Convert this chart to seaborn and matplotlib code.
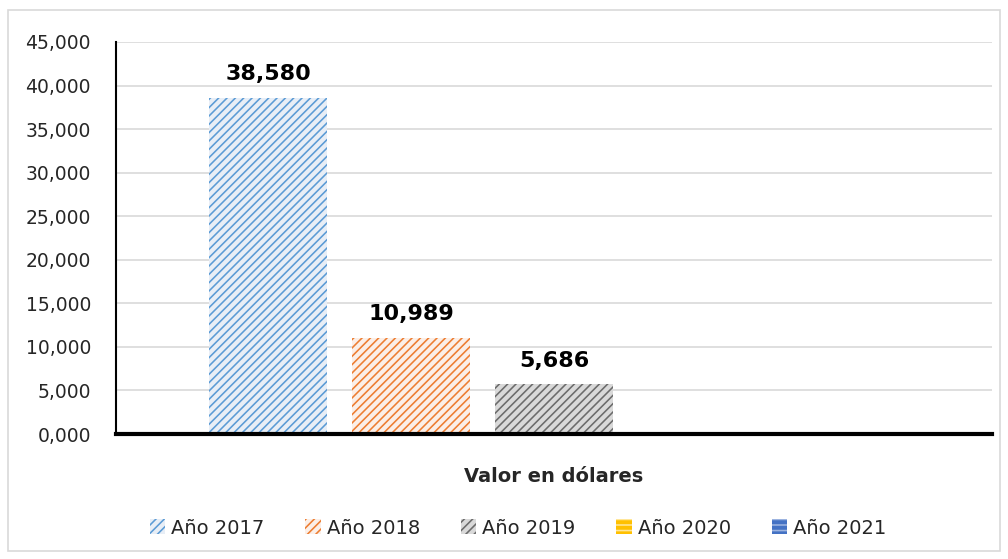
import pandas as pd
import numpy as np
import seaborn as sns
import matplotlib.pyplot as plt
from matplotlib.ticker import FuncFormatter
from matplotlib.patches import Rectangle

# Data
series = ['Año 2017', 'Año 2018', 'Año 2019', 'Año 2020', 'Año 2021']
values = [38.580, 10.989, 5.686, 0.0, 0.0]
category = 'Valor en dólares'

face_colors = ['#e8eef6', '#fbefe8', '#d9d9d9', '#FFC000', '#4472C4']
hatch_colors = ['#5B9BD5', '#ED7D31', '#6b6b6b', '#FFE699', '#9DB4E0']
hatches = ['////', '////', '////', '---', '---']

df = pd.DataFrame({'cat': [category] * len(series), 'serie': series, 'valor': values})

sns.set_style('white')
plt.rcParams['font.family'] = ['DejaVu Sans']
plt.rcParams['hatch.linewidth'] = 1.15

fig = plt.figure(figsize=(10.08, 5.59), dpi=100)
ax = fig.add_axes([116 / 1008, 1 - 434 / 559, (992 - 116) / 1008, (434 - 42) / 559])

sns.barplot(data=df, x='cat', y='valor', hue='serie', palette=face_colors,
            width=0.816, gap=0.175, ax=ax, legend=False)

for cont, fc, hc, h in zip(ax.containers, face_colors, hatch_colors, hatches):
    for p in cont.patches:
        p.set_facecolor(fc)
        p.set_edgecolor(hc)
        p.set_hatch(h)
        p.set_linewidth(0)

# Bar labels
for cont, v in zip(ax.containers, values):
    if v > 0:
        ax.bar_label(cont, labels=[f"{v:.3f}".replace('.', ',')], padding=10,
                     fontsize=16, fontweight='bold', color='black')

ax.set_xlim(-0.5, 0.5)
ax.set_ylim(0, 45)
ax.set_yticks(np.arange(0, 46, 5))
ax.yaxis.set_major_formatter(FuncFormatter(lambda v, pos: f"{v:.3f}".replace('.', ',')))
ax.tick_params(axis='y', length=0, labelsize=13.5, pad=18, colors='#262626')
ax.tick_params(axis='x', length=0, labelbottom=False)
ax.grid(axis='y', color='#d9d9d9', linewidth=1.2)
ax.set_axisbelow(True)

ax.set_xlabel(category, fontsize=14, fontweight='bold', labelpad=24)
ax.set_ylabel('')

for s in ['top', 'right']:
    ax.spines[s].set_visible(False)
ax.spines['left'].set_color('black')
ax.spines['left'].set_linewidth(1.5)
ax.spines['bottom'].set_color('black')
ax.spines['bottom'].set_linewidth(3)

handles = [c.patches[0] for c in ax.containers]
fig.legend(handles, series, loc='center', bbox_to_anchor=(518 / 1008, 1 - 528 / 559),
           ncol=5, frameon=False, fontsize=14, handlelength=0.8, handleheight=0.8,
           handletextpad=0.3, columnspacing=2.1)

# outer chart border
fig.patches.append(Rectangle((8 / 1008, 8 / 559), 992 / 1008, 541 / 559,
                             transform=fig.transFigure, fill=False,
                             edgecolor='#d9d9d9', linewidth=1.2))

plt.savefig('out.png', dpi=100)
